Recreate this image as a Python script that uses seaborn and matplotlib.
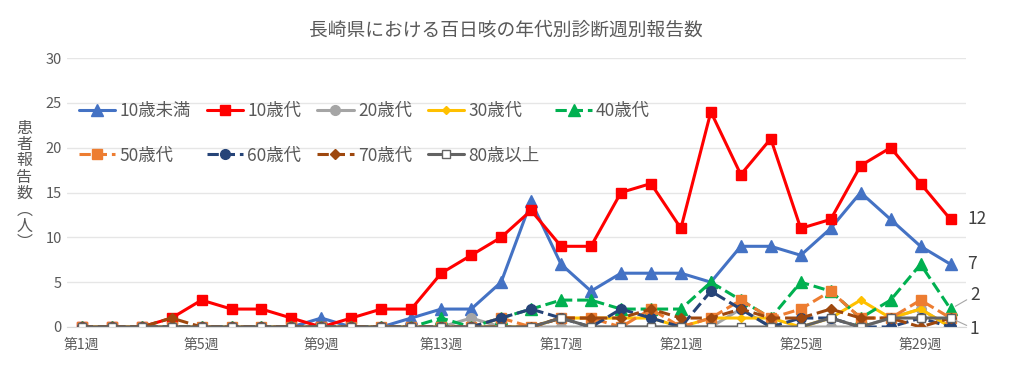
import matplotlib
matplotlib.use("Agg")
import matplotlib.pyplot as plt
import pandas as pd
import seaborn as sns

weeks = list(range(1, 31))
week_labels = ["第%d週" % w for w in range(1, 31, 4)]

under10 = [0, 0, 0, 0, 0, 0, 0, 0, 1, 0, 0, 1, 2, 2, 5, 14, 7, 4, 6, 6, 6, 5, 9, 9, 8, 11, 15, 12, 9, 7]
age10s = [0, 0, 0, 1, 3, 2, 2, 1, 0, 1, 2, 2, 6, 8, 10, 13, 9, 9, 15, 16, 11, 24, 17, 21, 11, 12, 18, 20, 16, 12]
age20s = [0, 0, 0, 0, 0, 0, 0, 0, 0, 0, 0, 0, 0, 1, 0, 0, 0, 0, 0, 0, 0, 0, 2, 0, 0, 0, 0, 1, 2, 0]
age30s = [0, 0, 0, 0, 0, 0, 0, 0, 0, 0, 0, 0, 0, 0, 0, 0, 1, 1, 1, 1, 0, 1, 1, 1, 0, 1, 3, 1, 2, 0]
age40s = [0, 0, 0, 0, 0, 0, 0, 0, 0, 0, 0, 0, 1, 0, 1, 2, 3, 3, 2, 2, 2, 5, 3, 1, 5, 4, 1, 3, 7, 2]
age50s = [0, 0, 0, 0, 0, 0, 0, 0, 0, 0, 0, 0, 0, 0, 1, 0, 1, 1, 0, 2, 0, 1, 3, 1, 2, 4, 1, 1, 3, 1]
age60s = [0, 0, 0, 0, 0, 0, 0, 0, 0, 0, 0, 0, 0, 0, 1, 2, 1, 0, 2, 1, 0, 4, 2, 0, 1, 1, 0, 0, 1, 0]
age70s = [0, 0, 0, 1, 0, 0, 0, 0, 0, 0, 0, 0, 0, 0, 0, 0, 1, 1, 1, 2, 1, 1, 2, 1, 1, 2, 1, 1, 0, 1]
over80 = [0, 0, 0, 0, 0, 0, 0, 0, 0, 0, 0, 0, 0, 0, 0, 0, 1, 0, 0, 0, 0, 0, 0, 0, 0, 1, 0, 1, 1, 1]

series = {
    "10歳未満": under10, "10歳代": age10s, "20歳代": age20s, "30歳代": age30s, "40歳代": age40s,
    "50歳代": age50s, "60歳代": age60s, "70歳代": age70s, "80歳以上": over80,
}

styles = {
    "10歳未満": dict(color="#4472C4", marker="^", ls="-", ms=8),
    "10歳代": dict(color="#FF0000", marker="s", ls="-", ms=7),
    "20歳代": dict(color="#A5A5A5", marker="o", ls="-", ms=7),
    "30歳代": dict(color="#FFC000", marker="D", ls="-", ms=4),
    "40歳代": dict(color="#00B050", marker="^", ls="--", ms=8),
    "50歳代": dict(color="#ED7D31", marker="s", ls="--", ms=7),
    "60歳代": dict(color="#264478", marker="o", ls="--", ms=7),
    "70歳代": dict(color="#9E480E", marker="D", ls="--", ms=5),
    "80歳以上": dict(color="#636363", marker="s", ls="-", ms=6, mfc="white"),
}

df = pd.DataFrame(series)
df["week"] = weeks
long = df.melt(id_vars="week", var_name="age", value_name="count")

sns.set_style("white")
plt.rcParams["font.family"] = ["Noto Sans CJK JP", "DejaVu Sans"]

fig = plt.figure(figsize=(10.11, 3.71), dpi=100)
ax = fig.add_axes([0.066, 0.1186, 0.889, 0.725])

for name in series:
    st = styles[name]
    sub = long[long["age"] == name]
    sns.lineplot(data=sub, x="week", y="count", ax=ax, label=name,
                 color=st["color"], linestyle=st["ls"], linewidth=2.2,
                 marker=st["marker"], markersize=st["ms"],
                 markerfacecolor=st.get("mfc", st["color"]),
                 markeredgecolor=st["color"], markeredgewidth=1)

ax.set_xlim(0.5, 30.5)
ax.set_ylim(0, 30)
ax.set_yticks(range(0, 31, 5))
ax.set_xticks(range(1, 31, 4))
ax.set_xticklabels(week_labels)
ax.grid(axis="y", color="#E6E6E6", linewidth=1)
ax.set_axisbelow(True)
for s in ["top", "right", "left"]:
    ax.spines[s].set_visible(False)
ax.spines["bottom"].set_color("#D9D9D9")
ax.tick_params(axis="both", length=0, labelsize=10.5, colors="#595959")
ax.tick_params(axis="x", pad=8, labelsize=10)
ax.set_xlabel("")
ax.set_ylabel("")

# legend filled row by row
handles, labels = ax.get_legend_handles_labels()
order = [0, 5, 1, 6, 2, 7, 3, 8, 4]
ax.legend([handles[i] for i in order], [labels[i] for i in order],
          loc="upper left", bbox_to_anchor=(0.0, 0.88), ncol=5, frameon=False,
          fontsize=12.5, labelcolor="#595959", handlelength=2.1, handletextpad=0.25,
          columnspacing=0.9, labelspacing=1.5, borderaxespad=0.3)

fig.text(0.5, 0.92, "長崎県における百日咳の年代別診断週別報告数", ha="center", va="center",
         fontsize=13.5, color="#595959")
fig.text(0.024, 0.50, "\n".join("患者報告数︵人︶"), ha="center", va="center",
         fontsize=11.5, color="#595959", linespacing=0.95)

# end labels
last = {"10歳代": (age10s[-1], (12, 0)), "10歳未満": (under10[-1], (12, 0)),
        "40歳代": (age40s[-1], (14, 10)), "80歳以上": (over80[-1], (14, -8))}
for name, (val, off) in last.items():
    ax.annotate(str(val), xy=(30, val), xytext=off, textcoords="offset points",
                ha="left", va="center", fontsize=12.5, color="#404040",
                arrowprops=dict(arrowstyle="-", color="#A6A6A6", lw=0.8,
                                shrinkA=0, shrinkB=4) if name in ("40歳代", "80歳以上") else None)

fig.savefig("out.png", dpi=100)
